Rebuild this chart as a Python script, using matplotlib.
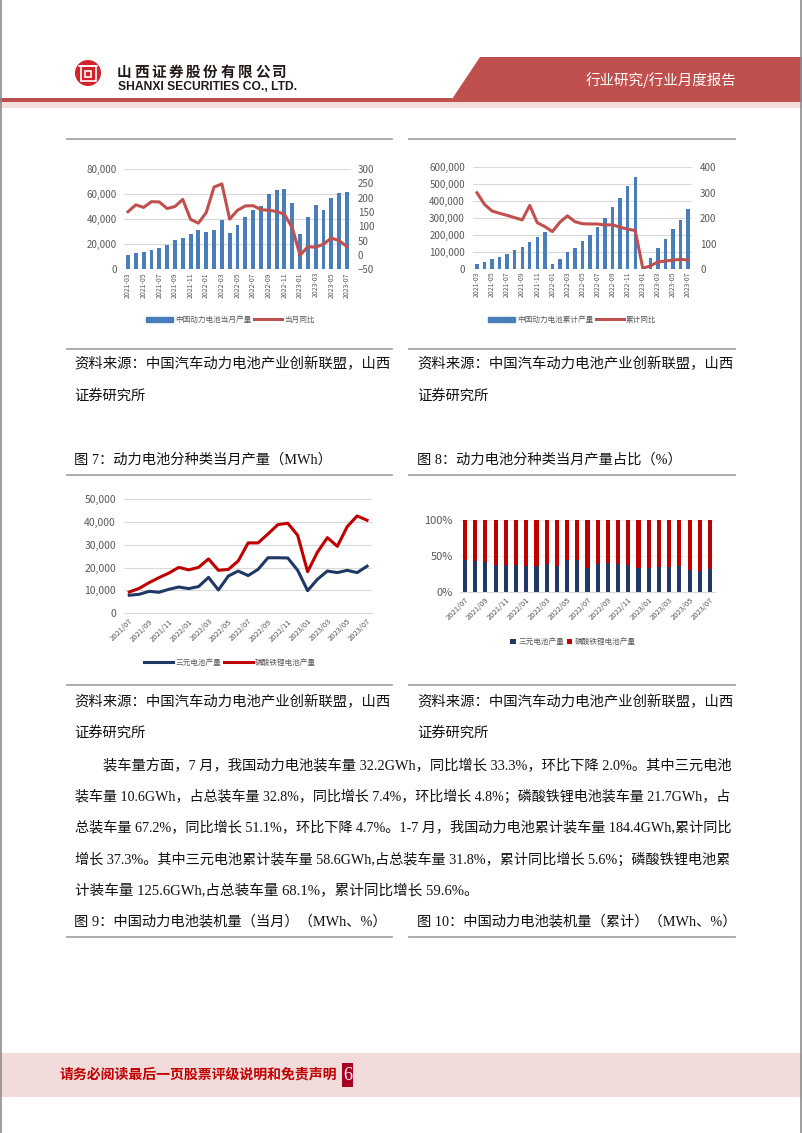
import numpy as np
import pandas as pd
import matplotlib
matplotlib.use("Agg")
import matplotlib.pyplot as plt
from matplotlib.patches import Polygon, Rectangle, Circle
from matplotlib.lines import Line2D
from matplotlib.ticker import FuncFormatter

plt.rcParams['font.family'] = ['Noto Sans CJK SC', 'DejaVu Sans']

W, H = 802, 1133

# -----------------------------
# Data
# -----------------------------
months_a = pd.period_range('2021-03', '2023-07', freq='M').strftime('%Y-%m').tolist()
months_b = pd.period_range('2021-07', '2023-07', freq='M').strftime('%Y/%m').tolist()

# 中国动力电池当月产量 (MWh) / 当月同比 (%)
monthly_output = [11200, 12800, 13900, 15200, 17300, 19500, 23200, 25100, 28300, 31700,
                  29900, 31700, 39500, 29100, 35500, 41600, 47500, 50100, 60000, 63200,
                  63700, 53100, 28000, 41600, 51500, 47200, 56800, 60800, 61600]
monthly_yoy = [151, 175, 166, 186, 185, 162, 169, 194, 124, 111,
               148, 237, 248, 125, 156, 171, 172, 158, 156, 152,
               142, 95, -1, 29, 27, 38, 59, 50, 29]

# 中国动力电池累计产量 (MWh) / 累计同比 (%)
cum_output = [29500, 43300, 57000, 70900, 86600, 110000, 132000, 157000, 187000, 216000,
              27500, 57000, 98400, 126000, 163000, 203000, 250000, 301000, 368000, 421000,
              488000, 543000, np.nan, 67000, 126000, 175000, 234000, 291000, 352000]
cum_yoy = [300, 254, 228, 219, 211, 202, 193, 250, 182, 167,
           147, 184, 209, 186, 178, 177, 177, 173, 174, 164,
           157, 151, 3, 12, 28, 31, 35, 38, 35]

# 三元 / 磷酸铁锂 当月产量 (MWh)
ternary = [7900, 8300, 9600, 9200, 10500, 11500, 10800, 11700, 15700, 10200,
           16300, 18500, 16500, 19200, 24300, 24300, 24200, 18800, 9900, 14900,
           18500, 17800, 18800, 17800, 20600]
lfp = [9300, 10900, 13400, 15600, 17600, 20100, 19000, 20100, 23800, 18800,
       19200, 22900, 30800, 30800, 34700, 38800, 39400, 34100, 18200, 26800,
       33100, 29300, 37900, 42600, 40700]

# 占比 (%)
share_ternary = [45, 43, 42, 37, 37, 37, 36, 36, 39, 36, 44, 44, 34,
                 39, 40, 39, 38, 33, 34, 35, 35, 36, 31, 29, 32]
share_lfp = [55, 57, 58, 63, 63, 63, 64, 64, 61, 64, 56, 56, 66,
             61, 60, 61, 62, 67, 66, 65, 65, 64, 69, 71, 68]

para_lines = [
    "装车量方面，7 月，我国动力电池装车量 32.2GWh，同比增长 33.3%，环比下降 2.0%。其中三元电池",
    "装车量 10.6GWh，占总装车量 32.8%，同比增长 7.4%，环比增长 4.8%；磷酸铁锂电池装车量 21.7GWh，占",
    "总装车量 67.2%，同比增长 51.1%，环比下降 4.7%。1-7 月，我国动力电池累计装车量 184.4GWh,累计同比",
    "增长 37.3%。其中三元电池累计装车量 58.6GWh,占总装车量 31.8%，累计同比增长 5.6%；磷酸铁锂电池累",
    "计装车量 125.6GWh,占总装车量 68.1%，累计同比增长 59.6%。",
]

# -----------------------------
# Colours
# -----------------------------
BLUE = '#4A7EBB'
RED = '#C0504D'
NAVY = '#203864'
DRED = '#C00000'
GRID = '#D9D9D9'
TICK = '#595959'
SERIF = ['Liberation Serif', 'Noto Sans CJK SC']

fig = plt.figure(figsize=(W / 100, H / 100), dpi=100)
bg = fig.add_axes([0, 0, 1, 1])
bg.set_xlim(0, W)
bg.set_ylim(H, 0)
bg.axis('off')
renderer = fig.canvas.get_renderer()


def px_axes(x0, y0, x1, y1):
    return fig.add_axes([x0 / W, 1 - y1 / H, (x1 - x0) / W, (y1 - y0) / H])


def fit_text(x, y, s, width, size, **kw):
    t = bg.text(x, y, s, fontsize=size, va='center', ha='left', **kw)
    w = t.get_window_extent(renderer).width
    t.set_fontsize(size * width / w)
    return t


def clean(ax, ysize=7, pad=5):
    for s in ax.spines.values():
        s.set_visible(False)
    ax.tick_params(length=0, colors=TICK)
    ax.tick_params(axis='y', labelsize=ysize, pad=pad)


thousands = FuncFormatter(lambda v, p: f'{v:,.0f}')

# -----------------------------
# Header / footer / page frame
# -----------------------------
bg.plot([1, 1], [0, H], color='#8C8C8C', lw=1.2)
bg.plot([W - 1, W - 1], [0, H], color='#8C8C8C', lw=1.2)

bg.add_patch(Rectangle((0, 101.7), W, 6.5, color='#F4DEDD', lw=0))
bg.add_patch(Rectangle((0, 98.3), 452, 3.4, color=RED, lw=0))
bg.add_patch(Polygon([(480, 56.7), (W, 56.7), (W, 101.7), (450, 101.7)],
                     closed=True, color=RED, lw=0))
fit_text(586, 80, "行业研究/行业月度报告", 151, 10, color='white')

# logo
bg.add_patch(Circle((88, 73), 13, color='#D2232A', lw=0))
bg.plot([79, 97], [65.5, 65.5], color='white', lw=1.1)
bg.add_patch(Rectangle((80.5, 65.5), 15, 15.5, fill=False, ec='white', lw=1.2))
bg.add_patch(Rectangle((85, 70.5), 6, 6, fill=False, ec='white', lw=1.2))

for i, ch in enumerate("山西证券股份有限公司"):
    bg.text(124 + i * 17.3, 72, ch, fontsize=10.5, fontweight='bold',
            color='#231815', ha='center', va='center')
fit_text(118, 87.5, "SHANXI SECURITIES CO., LTD.", 180, 8, fontweight='bold',
         color='#231815', fontfamily='Liberation Sans')

bg.add_patch(Rectangle((0, 1053), W, 44, color='#F2DCDB', lw=0))
fit_text(60, 1074, "请务必阅读最后一页股票评级说明和免责声明", 278, 10,
         fontweight='bold', color='#C00000')
bg.add_patch(Rectangle((342, 1063), 11, 24, color='#A50021', lw=0))
bg.text(347.5, 1075, "6", color='white', fontsize=13, ha='center', va='center',
        fontfamily='Liberation Serif')

# box rules
for y in (139, 349, 475, 685, 937):
    bg.plot([67, 392], [y, y], color='#A6A6A6', lw=1.3)
    bg.plot([409, 735], [y, y], color='#A6A6A6', lw=1.3)

# captions
for x0 in (74, 417):
    fit_text(x0, 364, "资料来源：中国汽车动力电池产业创新联盟，山西", 315, 10.3, color='#111111')
    bg.text(x0, 396, "证券研究所", fontsize=10.3, va='center', color='#111111')
    fit_text(x0, 702, "资料来源：中国汽车动力电池产业创新联盟，山西", 315, 10.3, color='#111111')
    bg.text(x0, 733, "证券研究所", fontsize=10.3, va='center', color='#111111')

bg.text(74, 460, "图 7：动力电池分种类当月产量（MWh）", fontsize=10.3, va='center',
        fontfamily=SERIF, color='#111111')
bg.text(417, 460, "图 8：动力电池分种类当月产量占比（%）", fontsize=10.3, va='center',
        fontfamily=SERIF, color='#111111')
bg.text(74, 921, "图 9：中国动力电池装机量（当月）（MWh、%）", fontsize=10.3, va='center',
        fontfamily=SERIF, color='#111111')
bg.text(417, 921, "图 10：中国动力电池装机量（累计）（MWh、%）", fontsize=10.3, va='center',
        fontfamily=SERIF, color='#111111')

# paragraph
para_y = [766, 797, 828, 860, 891]
for i, (line, y) in enumerate(zip(para_lines, para_y)):
    x0 = 103 if i == 0 else 75
    if i < 4:
        fit_text(x0, y, line, 735 - x0, 10.5, fontfamily=SERIF, color='#111111')
    else:
        bg.text(x0, y, line, fontsize=10.5, va='center', fontfamily=SERIF, color='#111111')

# -----------------------------
# Chart 1: monthly output + yoy
# -----------------------------
xa = np.arange(len(months_a))
ax1 = px_axes(124.1, 169, 350.9, 269.3)
ax1.bar(xa, monthly_output, width=0.5, color=BLUE, zorder=2)
ax1.set_xlim(-0.5, len(xa) - 0.5)
ax1.set_ylim(0, 80000)
ax1.set_yticks(range(0, 80001, 20000))
ax1.yaxis.set_major_formatter(thousands)
ax1.grid(axis='y', color=GRID, lw=0.8)
ax1.set_axisbelow(True)
ax1.set_xticks(xa[::2])
ax1.set_xticklabels(months_a[::2], rotation=90, fontsize=5)
clean(ax1, pad=5)
ax1.tick_params(axis='x', pad=2)
ax1r = ax1.twinx()
ax1r.plot(xa, monthly_yoy, color=RED, lw=2.2)
ax1r.set_ylim(-50, 300)
ax1r.set_yticks(range(-50, 301, 50))
clean(ax1r, pad=5)
ax1.legend([Rectangle((0, 0), 1, 1, color=BLUE), Line2D([], [], color=RED, lw=2.2)],
           ['中国动力电池当月产量', '当月同比'], loc='center', ncol=2, frameon=False,
           bbox_to_anchor=(230 / W, 1 - 320 / H), bbox_transform=fig.transFigure,
           fontsize=5.5, handlelength=3.6, handleheight=0.6, columnspacing=0.3,
           handletextpad=0.3, labelcolor=TICK)

# -----------------------------
# Chart 2: cumulative output + yoy
# -----------------------------
ax2 = px_axes(473.2, 167.3, 691.8, 269)
ax2.bar(xa, cum_output, width=0.45, color=BLUE, zorder=2)
ax2.set_xlim(-0.5, len(xa) - 0.5)
ax2.set_ylim(0, 600000)
ax2.set_yticks(range(0, 600001, 100000))
ax2.yaxis.set_major_formatter(thousands)
ax2.grid(axis='y', color=GRID, lw=0.8)
ax2.set_axisbelow(True)
ax2.set_xticks(xa[::2])
ax2.set_xticklabels(months_a[::2], rotation=90, fontsize=5)
clean(ax2, pad=6)
ax2.tick_params(axis='x', pad=2)
ax2r = ax2.twinx()
ax2r.plot(xa, cum_yoy, color=RED, lw=2.2)
ax2r.set_ylim(0, 400)
ax2r.set_yticks(range(0, 401, 100))
clean(ax2r, pad=6)
ax2.legend([Rectangle((0, 0), 1, 1, color=BLUE), Line2D([], [], color=RED, lw=2.2)],
           ['中国动力电池累计产量', '累计同比'], loc='center', ncol=2, frameon=False,
           bbox_to_anchor=(572 / W, 1 - 320 / H), bbox_transform=fig.transFigure,
           fontsize=5.5, handlelength=3.6, handleheight=0.6, columnspacing=0.3,
           handletextpad=0.3, labelcolor=TICK)

# -----------------------------
# Chart 3: ternary vs LFP output
# -----------------------------
xb = np.arange(len(months_b))
ax3 = px_axes(124.3, 499, 372, 613.3)
ax3.plot(xb, ternary, color=NAVY, lw=2.2, label='三元电池产量')
ax3.plot(xb, lfp, color=DRED, lw=2.2, label='磷酸铁锂电池产量')
ax3.set_xlim(-0.5, len(xb) - 0.5)
ax3.set_ylim(0, 50000)
ax3.set_yticks(range(0, 50001, 10000))
ax3.yaxis.set_major_formatter(thousands)
ax3.grid(axis='y', color=GRID, lw=0.8)
ax3.set_axisbelow(True)
ax3.set_xticks(xb[::2])
ax3.set_xticklabels(months_b[::2], rotation=45, ha='right', rotation_mode='anchor', fontsize=5.5)
clean(ax3, ysize=7.5, pad=6)
ax3.spines['bottom'].set_visible(True)
ax3.spines['bottom'].set_color(GRID)
ax3.tick_params(axis='x', pad=3)
ax3.legend(loc='center', ncol=2, frameon=False,
           bbox_to_anchor=(230 / W, 1 - 663 / H), bbox_transform=fig.transFigure,
           fontsize=5.5, handlelength=3.8, columnspacing=0.3, handletextpad=0.3,
           labelcolor=TICK)

# -----------------------------
# Chart 4: share (100% stacked)
# -----------------------------
ax4 = px_axes(459.9, 520, 715.1, 592)
ax4.bar(xb, share_ternary, width=0.4, color=NAVY, label='三元电池产量', zorder=2)
ax4.bar(xb, share_lfp, width=0.4, bottom=share_ternary, color=DRED,
        label='磷酸铁锂电池产量', zorder=2)
ax4.set_xlim(-0.5, len(xb) - 0.5)
ax4.set_ylim(0, 100)
ax4.set_yticks([0, 50, 100])
ax4.yaxis.set_major_formatter(FuncFormatter(lambda v, p: f'{v:.0f}%'))
ax4.grid(axis='y', color='#EEEEEE', lw=0.8)
ax4.set_axisbelow(True)
ax4.set_xticks(xb[::2])
ax4.set_xticklabels(months_b[::2], rotation=45, ha='right', rotation_mode='anchor', fontsize=5.5)
clean(ax4, ysize=8, pad=5)
ax4.spines['bottom'].set_visible(True)
ax4.spines['bottom'].set_color(GRID)
ax4.tick_params(axis='x', pad=3)
ax4.legend(loc='center', ncol=2, frameon=False,
           bbox_to_anchor=(573 / W, 1 - 642 / H), bbox_transform=fig.transFigure,
           fontsize=5.5, handlelength=0.7, handleheight=0.7, columnspacing=0.4,
           handletextpad=0.3, labelcolor=TICK)

fig.savefig('out.png', dpi=100)
